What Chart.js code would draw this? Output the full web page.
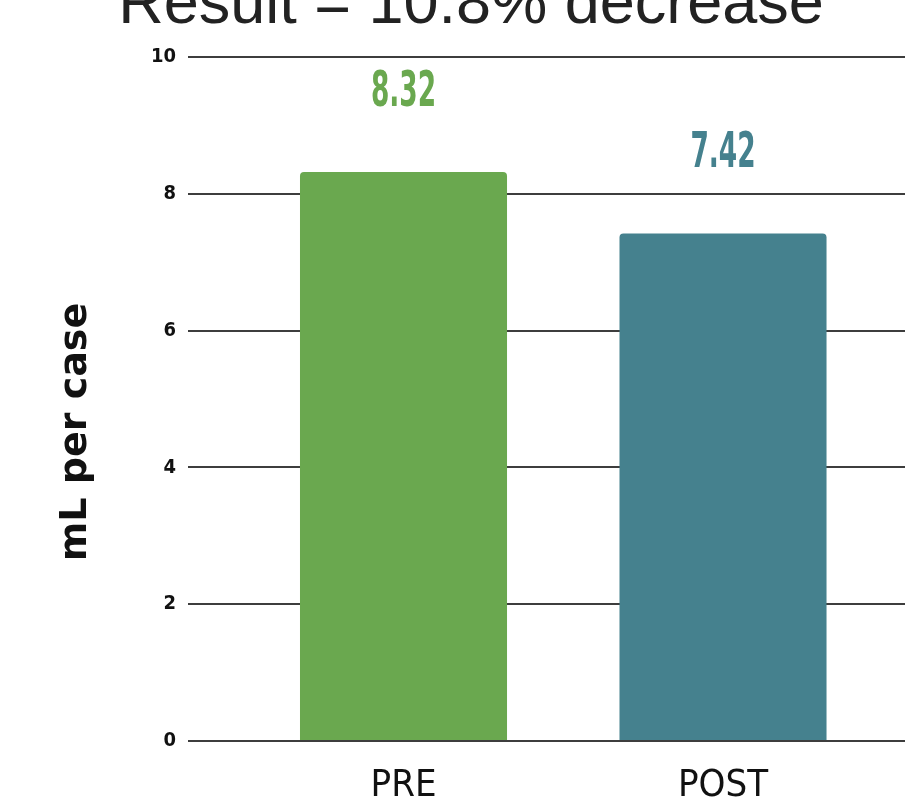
<!DOCTYPE html>
<html>
<head>
<meta charset="utf-8">
<title>mL per case</title>
<script src="https://cdn.jsdelivr.net/npm/chart.js@4"></script>
<style>
  html, body { margin: 0; padding: 0; background: #ffffff; }
  #wrap { width: 905px; height: 800px; overflow: hidden; }
</style>
</head>
<body>
<div id="wrap"><canvas id="chart" width="905" height="800"></canvas></div>
<script>
// Volume used per case, before and after the change
const categories = ['PRE', 'POST'];
const mlPerCase = [8.32, 7.42];
const barColors = ['#6aa84f', '#45818e'];
const yTicks = [0, 2, 4, 6, 8, 10];
const chartTitle = 'Result = 10.8% decrease';
const yTitle = 'mL per case';

const NARROW = "'Liberation Sans Narrow', 'DejaVu Sans Condensed', 'Liberation Sans', sans-serif";

// Heading over the plot
const headingPlugin = {
  id: 'heading',
  afterDraw(chart) {
    const ctx = chart.ctx;
    ctx.save();
    ctx.font = "63px 'Liberation Sans', Arial, sans-serif";
    ctx.fillStyle = '#222222';
    ctx.textAlign = 'center';
    ctx.textBaseline = 'alphabetic';
    ctx.fillText(chartTitle, 471, 23);
    ctx.restore();
  }
};

// Value printed above each bar, in the bar's colour
const valueLabels = {
  id: 'valueLabels',
  afterDatasetsDraw(chart) {
    const ctx = chart.ctx;
    const meta = chart.getDatasetMeta(0);
    ctx.save();
    ctx.font = "bold 49px " + NARROW;
    ctx.textAlign = 'center';
    ctx.textBaseline = 'alphabetic';
    meta.data.forEach((bar, i) => {
      ctx.save();
      ctx.translate(bar.x, bar.y - 66);
      ctx.scale(0.6, 1);
      ctx.fillStyle = barColors[i];
      ctx.fillText(mlPerCase[i].toFixed(2), 0, 0);
      ctx.restore();
    });
    ctx.restore();
  }
};

new Chart(document.getElementById('chart'), {
  type: 'bar',
  data: {
    datasets: [{
      data: categories.map((c, i) => ({ x: i, y: mlPerCase[i] })),
      backgroundColor: barColors,
      borderRadius: 4,
      borderSkipped: 'bottom',
      categoryPercentage: 1,
      barPercentage: 0.648
    }]
  },
  options: {
    responsive: false,
    animation: false,
    layout: { padding: { top: 57, right: 0, bottom: 0, left: 0 } },
    plugins: {
      legend: { display: false },
      tooltip: { enabled: false },
      title: { display: false }
    },
    scales: {
      x: {
        type: 'linear',
        bounds: 'data',
        offset: false,
        min: -0.6745,
        max: 1.5696,
        grid: { display: false },
        border: { display: false },
        afterBuildTicks(scale) {
          scale.ticks = categories.map((c, i) => ({ value: i }));
        },
        afterFit(scale) { scale.height = 59; },
        ticks: {
          padding: 14,
          color: '#111111',
          font: { family: NARROW, size: 38, weight: '500' },
          callback: (v) => categories[v] ?? ''
        }
      },
      y: {
        min: 0,
        max: 10,
        afterBuildTicks(scale) {
          scale.ticks = yTicks.map(v => ({ value: v }));
        },
        afterFit(scale) { scale.width = 188; },
        grid: { color: '#3d3d3d', lineWidth: 2, drawTicks: false },
        border: { display: false },
        ticks: {
          padding: 12,
          color: '#111111',
          font: { family: NARROW, size: 20, weight: 'bold' }
        },
        title: {
          display: true,
          text: yTitle + '\u00a0\u00a0\u00a0\u00a0\u00a0',
          color: '#111111',
          padding: { top: 53, bottom: 0 },
          font: { family: "'DejaVu Sans', Verdana, sans-serif", size: 38, weight: 'bold' }
        }
      }
    }
  },
  plugins: [headingPlugin, valueLabels]
});
</script>
</body>
</html>
